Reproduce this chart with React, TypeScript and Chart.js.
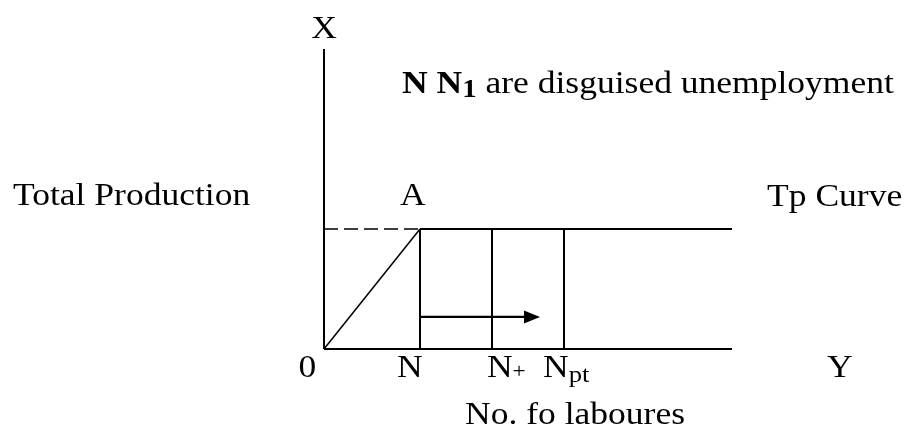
import React, { useEffect, useRef } from "react";
import { Chart, registerables } from "chart.js";

Chart.register(...registerables);

// ---- data (abstract units: labour on x, total production on y) ----
const labourMarks = [0, 4, 7, 10]; // 0, N, N+, Npt
const labourAxisEnd = 17;
const productionAxisTop = 10;
const tpLevel = 4; // total production plateau reached at A
const arrowFromTo = [4, 9];
const arrowLevel = 1.07;

// text labels
type Seg = { t: string; bold?: boolean; sub?: number; scale?: number };
const axisLetters = ["X", "Y"];
const tickNames = ["0", "N", "N+", "Npt"];

const FONT = "'Liberation Serif', 'Times New Roman', serif";
const SIZE = 32;
const STRETCH = 1.11;

export default function App() {
  const ref = useRef<HTMLCanvasElement | null>(null);

  useEffect(() => {
    const canvas = ref.current;
    if (!canvas) return;
    const [o, n, nPlus, nPt] = labourMarks;

    const line = (pts: { x: number; y: number }[], width: number, dash: number[] = []) => ({
      data: pts,
      showLine: true,
      borderColor: "#000",
      backgroundColor: "#000",
      borderWidth: width,
      borderDash: dash,
      pointRadius: 0,
      fill: false,
    });

    const datasets = [
      line([{ x: o, y: 0 }, { x: o, y: productionAxisTop }], 2),
      line([{ x: o, y: 0 }, { x: labourAxisEnd, y: 0 }], 2),
      line([{ x: o, y: 0 }, { x: n, y: tpLevel }], 1.5),
      line([{ x: o, y: tpLevel }, { x: n, y: tpLevel }], 1.6, [14, 6]),
      line([{ x: n, y: tpLevel }, { x: labourAxisEnd, y: tpLevel }], 1.8),
      line([{ x: n, y: 0 }, { x: n, y: tpLevel }], 2),
      line([{ x: nPlus, y: 0 }, { x: nPlus, y: tpLevel }], 2),
      line([{ x: nPt, y: 0 }, { x: nPt, y: tpLevel }], 2),
      line([{ x: arrowFromTo[0], y: arrowLevel }, { x: arrowFromTo[1] - 0.4, y: arrowLevel }], 2.4),
    ];

    const labels: { segs: Seg[]; x: number; y: number; align?: "left" | "center" }[] = [
      { segs: [{ t: axisLetters[0] }], x: o, y: productionAxisTop + 0.37, align: "center" },
      { segs: [{ t: axisLetters[1] }], x: 20.96, y: -0.93 },
      {
        segs: [
          { t: "N", bold: true },
          { t: " ", bold: true },
          { t: "N", bold: true },
          { t: "1", bold: true, sub: 4, scale: 0.8 },
          { t: " are disguised unemployment" },
        ],
        x: 3.25,
        y: 8.53,
      },
      { segs: [{ t: "Total Production" }], x: -12.96, y: 4.8 },
      { segs: [{ t: "A" }], x: 3.17, y: 4.8 },
      { segs: [{ t: "Tp Curve" }], x: 18.46, y: 4.77 },
      { segs: [{ t: tickNames[0] }], x: -0.69, y: -0.93, align: "center" },
      { segs: [{ t: tickNames[1] }], x: 3.04, y: -0.93 },
      { segs: [{ t: "N" }, { t: "+", sub: 1, scale: 0.65 }], x: 6.79, y: -0.93 },
      { segs: [{ t: "N" }, { t: "pt", sub: 5, scale: 0.75 }], x: 9.125, y: -0.93 },
      { segs: [{ t: "No. fo laboures" }], x: 5.875, y: -2.5 },
    ];

    const textPlugin = {
      id: "diagramText",
      afterDatasetsDraw(chart: any) {
        const ctx = chart.ctx as CanvasRenderingContext2D;
        const xs = chart.scales.x;
        const ys = chart.scales.y;
        // arrow head
        const tipX = xs.getPixelForValue(arrowFromTo[1]);
        const tipY = ys.getPixelForValue(arrowLevel);
        ctx.save();
        ctx.fillStyle = "#000";
        ctx.beginPath();
        ctx.moveTo(tipX, tipY);
        ctx.lineTo(tipX - 16, tipY - 6.5);
        ctx.lineTo(tipX - 16, tipY + 6.5);
        ctx.closePath();
        ctx.fill();
        ctx.restore();

        const fontOf = (s: Seg) =>
          `${s.bold ? "bold " : ""}${Math.round(SIZE * (s.scale || 1))}px ${FONT}`;
        for (const lab of labels) {
          ctx.save();
          ctx.fillStyle = "#000";
          ctx.textBaseline = "alphabetic";
          ctx.textAlign = "left";
          let total = 0;
          for (const s of lab.segs) {
            ctx.font = fontOf(s);
            total += ctx.measureText(s.t).width;
          }
          let px = xs.getPixelForValue(lab.x);
          const py = ys.getPixelForValue(lab.y);
          if (lab.align === "center") px -= (total * STRETCH) / 2;
          ctx.translate(px, py);
          ctx.scale(STRETCH, 1);
          let cx = 0;
          for (const s of lab.segs) {
            ctx.font = fontOf(s);
            ctx.fillText(s.t, cx, s.sub || 0);
            cx += ctx.measureText(s.t).width;
          }
          ctx.restore();
        }
      },
    };

    const chart = new Chart(canvas, {
      type: "scatter",
      data: { datasets: datasets as any },
      options: {
        animation: false,
        responsive: false,
        devicePixelRatio: 1,
        layout: { padding: 0 },
        plugins: { legend: { display: false }, tooltip: { enabled: false } },
        events: [],
        scales: {
          x: { type: "linear", min: -13.5, max: 24.333, display: false },
          y: { type: "linear", min: -2.9333, max: 11.6333, display: false },
        },
      },
      plugins: [textPlugin],
    });
    return () => chart.destroy();
  }, []);

  return (
    <div style={{ position: "fixed", left: 0, top: 0, width: 908, height: 437, background: "#fff" }}>
      <canvas ref={ref} width={908} height={437} style={{ display: "block", width: 908, height: 437 }} />
    </div>
  );
}
